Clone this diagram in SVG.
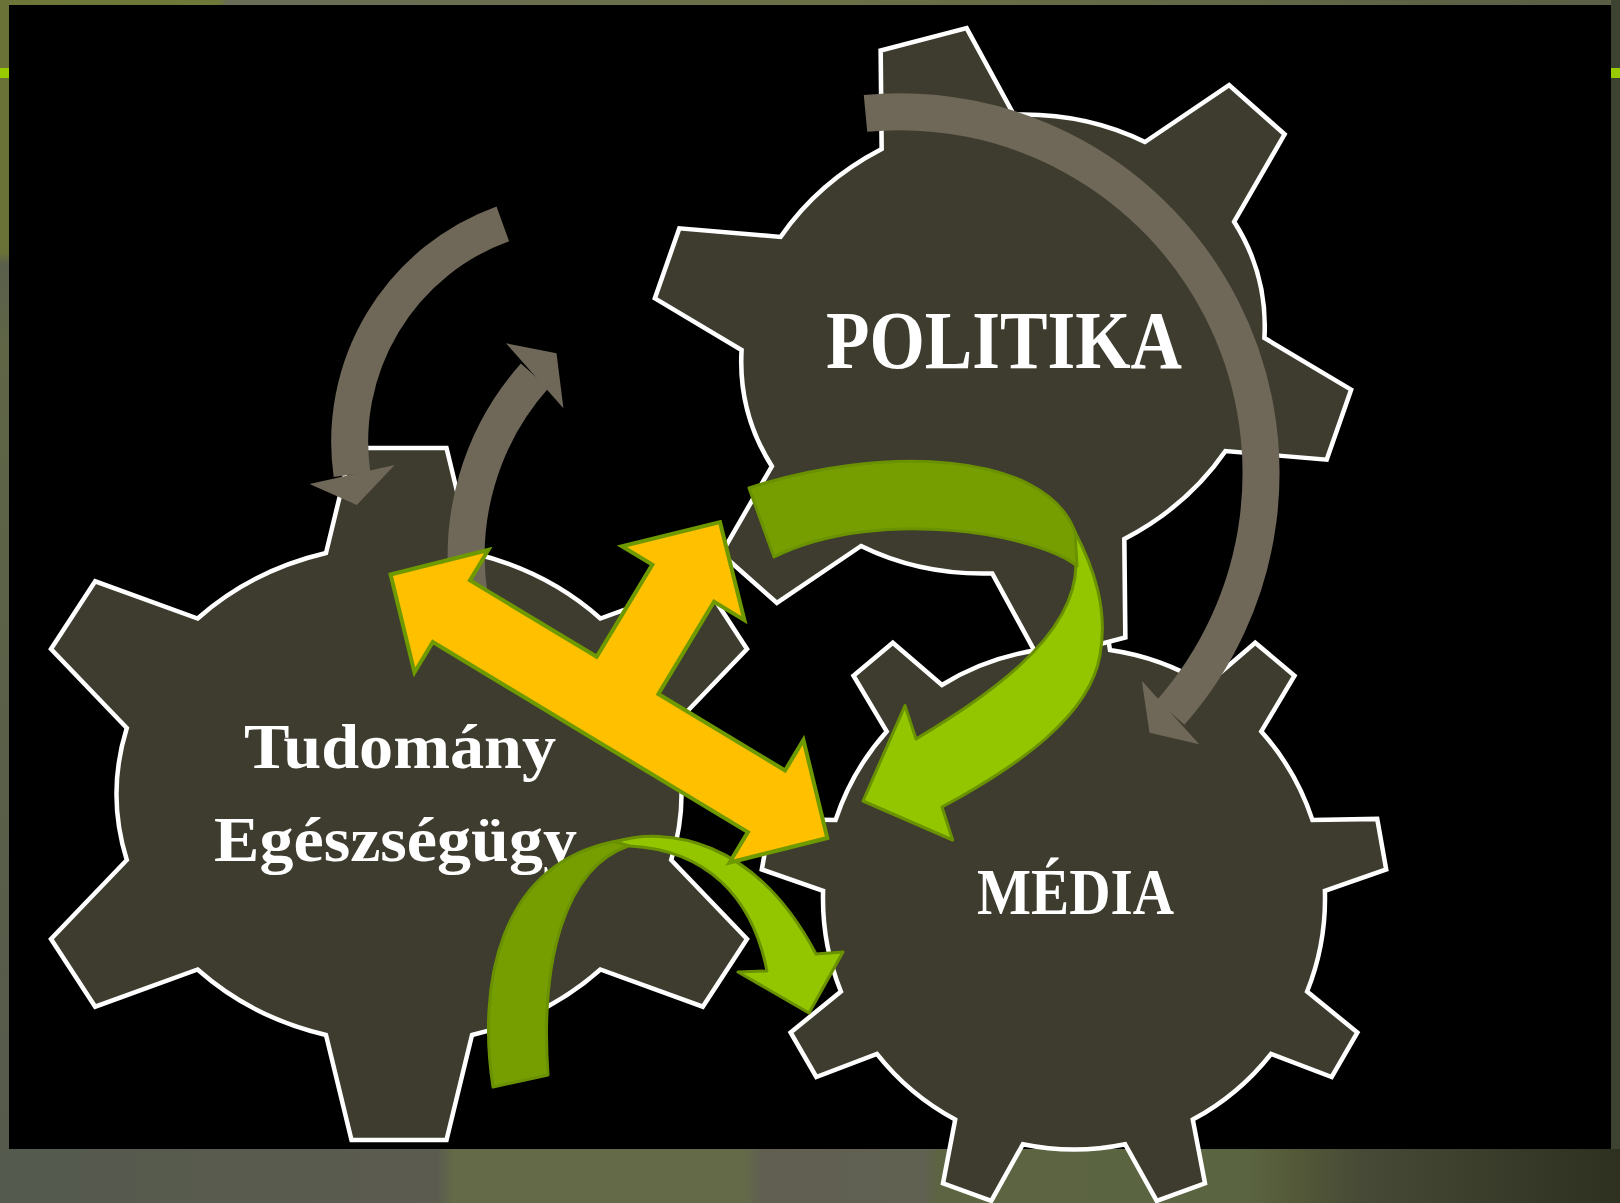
<svg xmlns="http://www.w3.org/2000/svg" width="1620" height="1203" viewBox="0 0 1620 1203">
<defs>
<style>
.gear{fill:#3E3C2E;stroke:#FFFFFF;stroke-width:4.5;stroke-linejoin:miter}
.lbl{font-family:"Liberation Serif","DejaVu Serif",serif;font-weight:bold;fill:#FFFFFF}
.gband{fill:none;stroke:#6F6859;stroke-width:37;stroke-linecap:butt}
.ghead{fill:#6F6859}
.gdark{fill:#779E00;stroke:#6A9200;stroke-width:3;stroke-linejoin:round}
.glight{fill:#94C600;stroke:#6A9200;stroke-width:3;stroke-linejoin:round}
.yel{fill:#FFC000;stroke:#6E9A00;stroke-width:4;stroke-linejoin:miter}
</style>
<linearGradient id="bot" x1="0" y1="0" x2="1" y2="0">
<stop offset="0" stop-color="#545A4E"/>
<stop offset="0.17" stop-color="#595B4E"/>
<stop offset="0.27" stop-color="#5B5C4F"/>
<stop offset="0.28" stop-color="#646A48"/>
<stop offset="0.46" stop-color="#646A48"/>
<stop offset="0.47" stop-color="#605F52"/>
<stop offset="0.57" stop-color="#616152"/>
<stop offset="0.58" stop-color="#5C6441"/>
<stop offset="0.77" stop-color="#5B6440"/>
<stop offset="0.80" stop-color="#535938"/>
<stop offset="0.84" stop-color="#474A36"/>
<stop offset="1" stop-color="#2E3020"/>
</linearGradient>
<linearGradient id="top" x1="0" y1="0" x2="1" y2="0">
<stop offset="0" stop-color="#6D7638"/>
<stop offset="0.135" stop-color="#6E7839"/>
<stop offset="0.14" stop-color="#6A6D57"/>
<stop offset="0.5" stop-color="#6B7046"/>
<stop offset="1" stop-color="#5A5E45"/>
</linearGradient>
<linearGradient id="left" x1="0" y1="0" x2="0" y2="1">
<stop offset="0" stop-color="#6A7238"/>
<stop offset="0.22" stop-color="#6A7238"/>
<stop offset="0.23" stop-color="#5A5F4C"/>
<stop offset="0.3" stop-color="#5F6545"/>
<stop offset="1" stop-color="#555A4C"/>
</linearGradient>
<path id="gear6" d="M -73,-241 L -47.5,-346 L 47.5,-346 L 73,-241 A 284 249 0 0 1 201.4,-175.5 L 303.8,-212.7 L 348,-145 L 272.2,-66 A 284 249 0 0 1 272.2,66 L 348,145 L 303.8,212.7 L 201.4,175.5 A 284 249 0 0 1 73,241 L 47.5,346 L -47.5,346 L -73,241 A 284 249 0 0 1 -201.4,175.5 L -303.8,212.7 L -348,145 L -272.2,66 A 284 249 0 0 1 -272.2,-66 L -348,-145 L -303.8,-212.7 L -201.4,-175.5 A 284 249 0 0 1 -73,-241 Z"/>
</defs>

<g id="background">
<rect x="0" y="0" width="1620" height="1203" fill="#5B5E4C"/>
<rect x="0" y="1149" width="1620" height="54" fill="url(#bot)"/>
<rect x="0" y="0" width="1620" height="5" fill="url(#top)"/>
<rect x="0" y="0" width="9" height="1149" fill="url(#left)"/>
<rect x="1611" y="0" width="9" height="1149" fill="#3D4331"/>
<rect x="0" y="68" width="9" height="10" fill="#99CC00"/>
<rect x="1611" y="68" width="9" height="10" fill="#99CC00"/>
<rect x="9" y="5" width="1602" height="1144" fill="#000000"/>
</g>

<g id="media">
<path class="gear" d="M 1038.0,650.1 L 1048.3,586.1 L 1099.7,586.1 L 1110.0,650.1 A 251 251 0 0 1 1206.1,685.0 L 1255.2,642.7 L 1294.5,675.7 L 1261.3,731.4 A 251 251 0 0 1 1312.4,819.9 L 1377.2,818.9 L 1386.2,869.5 L 1324.9,890.8 A 251 251 0 0 1 1307.1,991.5 L 1357.4,1032.5 L 1331.7,1077.0 L 1271.1,1053.9 A 251 251 0 0 1 1192.8,1119.6 L 1205.0,1183.3 L 1156.7,1200.9 L 1125.1,1144.2 A 251 251 0 0 1 1022.9,1144.2 L 991.3,1200.9 L 943.0,1183.3 L 955.2,1119.6 A 251 251 0 0 1 876.9,1053.9 L 816.3,1077.0 L 790.6,1032.5 L 840.9,991.5 A 251 251 0 0 1 823.1,890.8 L 761.8,869.5 L 770.8,818.9 L 835.6,819.9 A 251 251 0 0 1 886.7,731.4 L 853.5,675.7 L 892.8,642.7 L 941.9,685.0 A 251 251 0 0 1 1038.0,650.1 Z"/>
<text class="lbl" x="977" y="913.5" font-size="65" textLength="197" lengthAdjust="spacingAndGlyphs">MÉDIA</text>
</g>

<g id="politika">
<use href="#gear6" class="gear" transform="translate(1003,344) rotate(-14.6) scale(0.935,0.91)" style="stroke-width:4.9"/>
<text class="lbl" x="826" y="368" font-size="82" textLength="356" lengthAdjust="spacingAndGlyphs">POLITIKA</text>
</g>

<g id="tudomany">
<use href="#gear6" class="gear" transform="translate(399,794)"/>
<text class="lbl" x="244" y="767.5" font-size="64" textLength="312" lengthAdjust="spacingAndGlyphs">Tudomány</text>
<text class="lbl" x="214" y="860.6" font-size="64" textLength="363" lengthAdjust="spacingAndGlyphs">Egészségügy</text>
</g>

<g id="connectors">
<path class="gband" d="M 865.5,113.3 A 361.5 361.5 0 0 1 1170.5,712.5"/>
<polygon class="ghead" points="1141.8,680.8 1149.5,732.7 1199.2,744.2"/>
<path class="gband" d="M 502.8,223.8 A 231.7 231.7 0 0 0 352,474.5"/>
<polygon class="ghead" points="309.6,484 356.8,505 394.7,465"/>
<path class="gband" d="M 469.8,600 A 270.6 270.6 0 0 1 534.7,375.8"/>
<polygon class="ghead" points="506,343.3 556.5,353.3 563.4,408.3"/>

<g id="green-arrow-1">
<path class="glight" d="M 1074,530 C 1095,570 1108,610 1100,655 C 1090,715 1020,765 942,807 L 952.6,840 L 863,801 L 905,705.6 L 916,739 C 980,700 1075,640 1076,565 Z"/>
<path class="gdark" d="M 749,488 C 880,445 1045,450 1075,532 L 1077,566 C 1040,535 880,505 774,557 Z"/>
</g>

<g id="green-arrow-2">
<path class="gdark" d="M 493,1087 C 478,990 495,860 623,840 L 628,846 C 565,868 540,960 548,1075 Z"/>
<path class="glight" d="M 615,842 C 665,826 755,838 816,954 L 843,952 L 809,1013 L 738,972 L 767,971 C 752,895 705,850 630,846 Z"/>
</g>

<polygon id="yellow-arrow" class="yel" transform="translate(451.4,611.2) rotate(31.1)" points="-71,0 0,-71.5 0,-36 148,-36 148,-143.7 112.5,-143.7 184,-215 255.5,-143.7 220,-143.7 220,-36 368,-36 368,-71.5 439,0 368,71.5 368,36 0,36 0,71.5"/>
</g>
</svg>
